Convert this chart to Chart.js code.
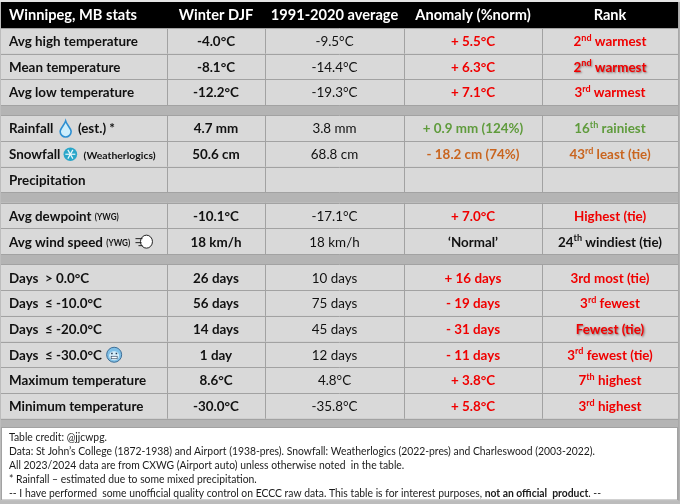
<!DOCTYPE html>
<html><head><meta charset="utf-8">
<style>html,body{margin:0;padding:0;background:#fff;overflow:hidden}
#wrap{width:680px;height:504px;position:relative}</style>
</head><body><div id="wrap"><canvas id="c"></canvas></div>
<script src="https://cdn.jsdelivr.net/npm/chart.js@4.4.1/dist/chart.umd.min.js"></script>
<script>
// ---------------- DATA ----------------
const headerLabels = ['Winnipeg, MB stats', 'Winter DJF', '1991-2020 average', 'Anomaly (%norm)', 'Rank'];
const rowLabels = [
  'Avg high temperature', 'Mean temperature', 'Avg low temperature',
  'Rainfall {drop} (est.) *', 'Snowfall{snow} [(Weatherlogics)]', 'Precipitation',
  'Avg dewpoint [(YWG)]', 'Avg wind speed [(YWG)] {wind}',
  'Days  > 0.0°C', 'Days  ≤ -10.0°C', 'Days  ≤ -20.0°C', 'Days  ≤ -30.0°C {cold}',
  'Maximum temperature', 'Minimum temperature'
];
const winterValues = ['-4.0°C', '-8.1°C', '-12.2°C', '4.7 mm', '50.6 cm', '', '-10.1°C', '18 km/h',
  '26 days', '56 days', '14 days', '1 day', '8.6°C', '-30.0°C'];
const normalValues = ['-9.5°C', '-14.4°C', '-19.3°C', '3.8 mm', '68.8 cm', '', '-17.1°C', '18 km/h',
  '10 days', '75 days', '45 days', '12 days', '4.8°C', '-35.8°C'];
const anomalyValues = ['+ 5.5°C', '+ 6.3°C', '+ 7.1°C', '+ 0.9 mm (124%)', '- 18.2 cm (74%)', '', '+ 7.0°C', '‘Normal’',
  '+ 16 days', '- 19 days', '- 31 days', '- 11 days', '+ 3.8°C', '+ 5.8°C'];
const rankValues = ['2^nd warmest', '2^nd warmest', '3^rd warmest', '16^th rainiest', '43^rd least (tie)', '', 'Highest (tie)', '24^th windiest (tie)',
  '3rd most (tie)', '3^rd fewest', 'Fewest (tie)', '3^rd fewest (tie)', '7^th highest', '3^rd highest'];
const sectionEnds = [2, 5, 7]; // a separator band follows these rows
const footerLines = [
  'Table credit: @jjcwpg.',
  'Data: St John’s College (1872-1938) and Airport (1938-pres). Snowfall: Weatherlogics (2022-pres) and Charleswood (2003-2022).',
  'All 2023/2024 data are from CXWG (Airport auto) unless otherwise noted  in the table.',
  '* Rainfall – estimated due to some mixed precipitation.',
  '-- I have performed  some unofficial quality control on ECCC raw data. This table is for interest purposes, **not an official  product**. --'
];

// ---------------- STYLE / LAYOUT ----------------
const COLORS = {
  frame: '#bcbcbc', cell: '#d9d9d9', sep: '#b4b4b4', grid: '#a2a2a2', header: '#000000',
  headerText: '#ffffff', text: '#111111', warm: '#f00000', wet: '#5f9b3c', dry: '#c9651f', plain: '#111111'
};
const toneByRow = ['warm', 'warm', 'warm', 'wet', 'dry', 'plain', 'warm', 'plain',
  'warm', 'warm', 'warm', 'warm', 'warm', 'warm'];
const shadowRank = [1, 10];
const colEdges = [1, 167, 265, 404, 542, 678];
const HEAD_TOP = 2, HEAD_BOT = 28, ROW_H = 25.7, SEP_H = 10.3, FOOT_TOP = 427, FOOT_BOT = 500.5;
const FAMILY = 'Lato, "DejaVu Sans", sans-serif';

// font roles: nominal size (height) and a reference string + width giving horizontal squeeze
const ROLES = {
  main:  { size: 13.6, weight: 'bold',   ref: 'Avg high temperature', w: 129 },
  reg:   { size: 13.6, weight: 'normal', ref: null },
  head:  { size: 14.2, weight: 'bold',   ref: 'Winnipeg, MB stats', w: 128 },
  small: { size: 10.2, weight: 'bold',   ref: '(Weatherlogics)', w: 72 },
  tiny:  { size: 8.6,  weight: 'bold',   ref: '(YWG)', w: 24 },
  sup:   { size: 9.2,  weight: 'bold',   ref: null },
  foot:  { size: 11.0, weight: 'normal', ref: footerLines[1], w: 586 },
  footB: { size: 11.0, weight: 'bold',   ref: null }
};

function prepRoles(ctx) {
  for (const k in ROLES) {
    const r = ROLES[k];
    r.font = r.weight + ' ' + r.size + 'px ' + FAMILY;
    if (r.ref) { ctx.font = r.font; r.k = r.w / ctx.measureText(r.ref).width; }
  }
  ROLES.reg.k = ROLES.main.k; ROLES.sup.k = ROLES.main.k;
  ROLES.footB.k = ROLES.foot.k;
}
function tw(ctx, role, s) { const r = ROLES[role]; ctx.font = r.font; return ctx.measureText(s).width * r.k; }
function txt(ctx, role, s, x, y, align) {
  const r = ROLES[role];
  const w = tw(ctx, role, s);
  const x0 = align === 'center' ? x - w / 2 : x;
  ctx.save();
  ctx.translate(x0, y); ctx.scale(r.k, 1);
  ctx.font = r.font; ctx.textAlign = 'left'; ctx.textBaseline = 'middle';
  ctx.fillText(s, 0, 0);
  ctx.restore();
  return w;
}

function drawIcon(ctx, kind, cx, cy) {
  ctx.save();
  if (kind === 'drop') {
    ctx.beginPath();
    ctx.moveTo(cx, cy - 7.5);
    ctx.bezierCurveTo(cx + 1, cy - 4, cx + 5.5, cy, cx + 5.5, cy + 3);
    ctx.arc(cx, cy + 3, 5.5, 0, Math.PI, false);
    ctx.bezierCurveTo(cx - 5.5, cy, cx - 1, cy - 4, cx, cy - 7.5);
    ctx.closePath();
    ctx.fillStyle = '#cdeefc'; ctx.fill();
    ctx.lineWidth = 1.6; ctx.strokeStyle = '#2d8fd2'; ctx.stroke();
  } else if (kind === 'snow') {
    ctx.beginPath(); ctx.arc(cx, cy, 6.8, 0, Math.PI * 2);
    ctx.fillStyle = '#2aa6c9'; ctx.fill();
    ctx.strokeStyle = '#e8f8fc'; ctx.lineWidth = 1.2;
    for (let k = 0; k < 3; k++) {
      const a = k * Math.PI / 3;
      ctx.beginPath();
      ctx.moveTo(cx - 5 * Math.cos(a), cy - 5 * Math.sin(a));
      ctx.lineTo(cx + 5 * Math.cos(a), cy + 5 * Math.sin(a));
      ctx.stroke();
    }
  } else if (kind === 'wind') {
    ctx.lineWidth = 1; ctx.strokeStyle = '#222';
    ctx.fillStyle = '#fff';
    ctx.beginPath();
    ctx.ellipse(cx + 3, cy, 6, 6.5, 0, 0, Math.PI * 2);
    ctx.fill(); ctx.stroke();
    ctx.beginPath();
    ctx.moveTo(cx - 8, cy - 3); ctx.lineTo(cx - 1, cy - 3);
    ctx.moveTo(cx - 8, cy + 1); ctx.lineTo(cx - 2, cy + 1);
    ctx.moveTo(cx - 5, cy + 4); ctx.lineTo(cx - 1, cy + 4);
    ctx.stroke();
  } else if (kind === 'cold') {
    ctx.beginPath(); ctx.arc(cx, cy, 7.5, 0, Math.PI * 2);
    ctx.fillStyle = '#7fbfe6'; ctx.fill();
    ctx.lineWidth = 1; ctx.strokeStyle = '#3d6f98'; ctx.stroke();
    ctx.beginPath(); ctx.ellipse(cx, cy + 1, 5, 4.5, 0, 0, Math.PI * 2);
    ctx.fillStyle = '#d6eefa'; ctx.fill();
    ctx.fillStyle = '#1d3550';
    ctx.fillRect(cx - 3, cy - 2, 1.5, 1.5); ctx.fillRect(cx + 1.5, cy - 2, 1.5, 1.5);
    ctx.fillStyle = '#ffffff';
    ctx.fillRect(cx - 3, cy + 1.5, 6, 2.5);
    ctx.strokeStyle = '#1d3550'; ctx.lineWidth = 0.6; ctx.strokeRect(cx - 3, cy + 1.5, 6, 2.5);
  }
  ctx.restore();
}
const ICON_W = { drop: 18, snow: 20, wind: 20, cold: 18 };

const tablePlugin = {
  id: 'weatherTable',
  beforeDraw(chart) {
    const { ctx, scales: { x, y } } = chart;
    const X = v => x.getPixelForValue(v), Y = v => y.getPixelForValue(v);
    prepRoles(ctx);

    ctx.save();
    // frame
    ctx.fillStyle = COLORS.frame; ctx.fillRect(X(0), Y(0), X(680) - X(0), Y(504) - Y(0));
    ctx.fillStyle = '#e4e4e4'; ctx.fillRect(X(0), Y(0), X(680) - X(0), Y(HEAD_TOP) - Y(0));
    // header
    ctx.fillStyle = COLORS.header;
    ctx.fillRect(X(colEdges[0]), Y(HEAD_TOP), X(colEdges[5]) - X(colEdges[0]), Y(HEAD_BOT) - Y(HEAD_TOP));
    ctx.fillStyle = COLORS.headerText;
    const hy = Y((HEAD_TOP + HEAD_BOT) / 2 + 0.5);
    headerLabels.forEach((h, i) => {
      if (i === 0) txt(ctx, 'head', h, X(9), hy, 'left');
      else txt(ctx, 'head', h, X((colEdges[i] + colEdges[i + 1]) / 2), hy, 'center');
    });

    // rows
    let top = HEAD_BOT;
    const rowPos = [];
    rowLabels.forEach((lab, r) => {
      rowPos.push([top, top + ROW_H]);
      top += ROW_H;
      if (sectionEnds.includes(r)) top += SEP_H;
    });
    ctx.fillStyle = COLORS.sep;
    sectionEnds.concat([rowLabels.length - 1]).forEach(r => {
      const a = rowPos[r][1];
      const b = r + 1 < rowPos.length ? rowPos[r + 1][0] : FOOT_TOP;
      ctx.fillRect(X(colEdges[0]), Y(a), X(colEdges[5]) - X(colEdges[0]), Y(b) - Y(a));
    });
    rowPos.forEach(([t, b]) => {
      ctx.fillStyle = COLORS.cell;
      ctx.fillRect(X(colEdges[0]), Y(t), X(colEdges[5]) - X(colEdges[0]), Y(b) - Y(t));
      ctx.strokeStyle = COLORS.grid; ctx.lineWidth = 1;
      ctx.beginPath();
      ctx.moveTo(X(colEdges[0]), Math.round(Y(t)) + 0.5); ctx.lineTo(X(colEdges[5]), Math.round(Y(t)) + 0.5);
      ctx.moveTo(X(colEdges[0]), Math.round(Y(b)) + 0.5); ctx.lineTo(X(colEdges[5]), Math.round(Y(b)) + 0.5);
      for (let c = 1; c < 5; c++) {
        ctx.moveTo(Math.round(X(colEdges[c])) + 0.5, Y(t)); ctx.lineTo(Math.round(X(colEdges[c])) + 0.5, Y(b));
      }
      ctx.stroke();
    });
    ctx.fillStyle = '#a8a8a8';
    ctx.fillRect(X(colEdges[5]), Y(HEAD_TOP), 1.5, Y(FOOT_BOT) - Y(HEAD_TOP));

    // text
    rowPos.forEach(([t, b], r) => {
      const cy = Y((t + b) / 2 + 0.8);
      ctx.fillStyle = COLORS.text;
      let cx = X(9);
      rowLabels[r].split(/(\{\w+\}|\[[^\]]+\])/).forEach(tok => {
        if (!tok) return;
        if (tok[0] === '{') {
          const k = tok.slice(1, -1);
          drawIcon(ctx, k, cx + ICON_W[k] / 2, cy - 0.5);
          cx += ICON_W[k];
        } else if (tok[0] === '[') {
          const s = tok.slice(1, -1);
          cx += txt(ctx, s.length > 6 ? 'small' : 'tiny', s, cx, cy + 1, 'left');
        } else {
          cx += txt(ctx, 'main', tok, cx, cy, 'left');
        }
      });
      ctx.fillStyle = COLORS.text;
      txt(ctx, 'main', winterValues[r], X((colEdges[1] + colEdges[2]) / 2), cy, 'center');
      txt(ctx, 'reg', normalValues[r], X((colEdges[2] + colEdges[3]) / 2), cy, 'center');
      ctx.fillStyle = COLORS[toneByRow[r]];
      txt(ctx, 'main', anomalyValues[r], X((colEdges[3] + colEdges[4]) / 2), cy, 'center');
      const rv = rankValues[r];
      if (rv) {
        const m = rv.match(/^(\d+)\^(\w+)(.*)$/);
        const parts = m ? [[m[1], 'main'], [m[2], 'sup'], [m[3], 'main']] : [[rv, 'main']];
        let w = 0;
        parts.forEach(([s, role]) => { w += tw(ctx, role, s); });
        let px = X((colEdges[4] + colEdges[5]) / 2) - w / 2;
        if (shadowRank.includes(r)) {
          ctx.shadowColor = 'rgba(60,0,0,0.5)'; ctx.shadowBlur = 2; ctx.shadowOffsetX = 1; ctx.shadowOffsetY = 1;
        }
        parts.forEach(([s, role]) => {
          px += txt(ctx, role, s, px, role === 'sup' ? cy - 4 : cy, 'left');
        });
        ctx.shadowColor = 'transparent'; ctx.shadowBlur = 0; ctx.shadowOffsetX = 0; ctx.shadowOffsetY = 0;
      }
    });

    // footer
    ctx.fillStyle = '#ffffff';
    ctx.fillRect(X(colEdges[0]), Y(FOOT_TOP), X(colEdges[5]) - X(colEdges[0]), Y(FOOT_BOT) - Y(FOOT_TOP));
    ctx.strokeStyle = COLORS.grid; ctx.lineWidth = 1;
    ctx.strokeRect(Math.round(X(colEdges[0])) + 0.5, Math.round(Y(FOOT_TOP)) + 0.5,
      X(colEdges[5]) - X(colEdges[0]) - 1, Y(FOOT_BOT) - Y(FOOT_TOP) - 1);
    ctx.fillStyle = '#1a1a1a';
    footerLines.forEach((line, i) => {
      const ly = Y(437 + i * 14);
      let lx = X(9);
      line.split(/(\*\*[^*]+\*\*)/).forEach(tok => {
        if (!tok) return;
        const bold = tok.startsWith('**');
        const s = bold ? tok.slice(2, -2) : tok;
        lx += txt(ctx, bold ? 'footB' : 'foot', s, lx, ly, 'left');
      });
    });
    ctx.restore();
  }
};

new Chart(document.getElementById('c'), {
  type: 'scatter',
  data: { datasets: [{ data: [], pointRadius: 0 }] },
  options: {
    responsive: true, maintainAspectRatio: false, animation: false, events: [],
    layout: { padding: 0 },
    plugins: { legend: { display: false }, tooltip: { enabled: false } },
    scales: {
      x: { type: 'linear', min: 0, max: 680, display: false },
      y: { type: 'linear', min: 0, max: 504, reverse: true, display: false }
    }
  },
  plugins: [tablePlugin]
});
</script></body></html>
